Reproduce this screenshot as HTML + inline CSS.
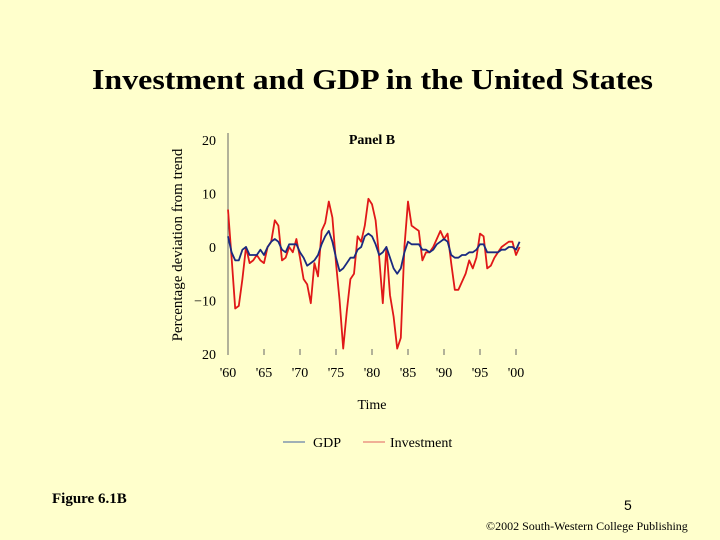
<!DOCTYPE html>
<html><head><meta charset="utf-8"><style>
body{margin:0;width:720px;height:540px;background:#FFFFCC;overflow:hidden;font-family:"Liberation Serif",serif;}
</style></head><body>
<svg width="720" height="540" style="position:absolute;left:0;top:0">
<text x="92" y="89" textLength="561" lengthAdjust="spacingAndGlyphs" font-size="29" font-weight="bold" font-family="Liberation Serif">Investment and GDP in the United States</text>
<text x="372" y="144" text-anchor="middle" font-size="14" font-weight="bold" font-family="Liberation Serif">Panel B</text>
<text transform="translate(182,245) rotate(-90)" text-anchor="middle" font-size="15" font-family="Liberation Serif">Percentage deviation from trend</text>
<text x="372" y="409" text-anchor="middle" font-size="14" font-family="Liberation Serif">Time</text>
<g id="axes"></g>
<g id="series"></g>
<line x1="283" y1="442" x2="305" y2="442" stroke="#4060a0" stroke-width="1"/>
<text x="313" y="447" font-size="14" font-family="Liberation Serif">GDP</text>
<line x1="363" y1="442" x2="385" y2="442" stroke="#e06060" stroke-width="1"/>
<text x="390" y="447" font-size="14" font-family="Liberation Serif">Investment</text>
<text x="52" y="503" font-size="15" font-weight="bold" font-family="Liberation Serif">Figure 6.1B</text>
<text x="624" y="510" font-size="14" font-family="Liberation Sans">5</text>
<text x="486" y="530" font-size="12" font-family="Liberation Serif">©2002 South-Western College Publishing</text>
</svg>
<script>
const years=[];for(let i=0;i<=81;i++)years.push(1960+i*0.5);
const yTicks=[20,10,0,-10,-20];
const yTickLabels=["20","10","0","\u221210","20"];
const xTicks=[1960,1965,1970,1975,1980,1985,1990,1995,2000];
const xTickLabels=["'60","'65","'70","'75","'80","'85","'90","'95","'00"];
const investment=[7,-2,-11.5,-11,-6,0,-3,-2.5,-1.5,-2.5,-3,0,1,5,4,-2.5,-2,0,-1,1.5,-2,-6,-7,-10.5,-3,-5.5,3,4.5,8.5,5.5,-3,-10,-19,-12,-6,-5,2,1,4,9,8,5,-2,-10.5,0,-9,-13,-19,-17,0,8.5,4,3.5,3,-2.5,-1,-1,0,1.5,3,1.5,2.5,-3,-8,-8,-6.5,-5,-2.5,-4,-2,2.5,2,-4,-3.5,-2,-1,0,0.5,1,1,-1.5,0];
const gdp=[2,-1,-2.5,-2.5,-0.5,0,-1.5,-1.5,-1.5,-0.5,-1.5,0,1,1.5,1,-0.5,-1,0.5,0.5,0.5,-1,-2,-3.5,-3,-2.5,-1.5,0.5,2,3,1,-2,-4.5,-4,-3,-2,-2,-0.5,0,2,2.5,2,0.5,-1.5,-1,0,-2,-4,-5,-4,-1,1,0.5,0.5,0.5,-0.5,-0.5,-1,-0.5,0.5,1,1.5,1,-1.5,-2,-2,-1.5,-1.5,-1,-1,-0.5,0.5,0.5,-1,-1,-1,-1,-0.5,-0.5,0,0,-0.5,1];
const NS="http://www.w3.org/2000/svg";
const xS=y=>228+(y-1960)*7.2;
const yS=v=>247-v*5.35;
const ax=document.getElementById('axes');
function mk(t,a,p){const e=document.createElementNS(NS,t);for(const k in a)e.setAttribute(k,a[k]);p.appendChild(e);return e;}
const yl=mk('line',{x1:228,y1:133,x2:228,y2:355,stroke:'#666','stroke-width':1},ax);


yTicks.forEach((t,i)=>{const tx=mk('text',{x:216,y:yS(t)+5,'text-anchor':'end','font-size':14,'font-family':'Liberation Serif'},ax);tx.textContent=yTickLabels[i];

});
xTicks.forEach((t,i)=>{const l=mk('line',{x1:xS(t),y1:349,x2:xS(t),y2:355,stroke:'#666','stroke-width':1},ax);


const tx=mk('text',{x:xS(t),y:377,'text-anchor':'middle','font-size':14,'font-family':'Liberation Serif'},ax);tx.textContent=xTickLabels[i];

});
const sg=document.getElementById('series');
function line(vals,col,w,name){const d=vals.map((v,i)=>(i?'L':'M')+xS(years[i]).toFixed(1)+','+yS(v).toFixed(1)).join('');
const p=mk('path',{d:d,fill:'none',stroke:col,'stroke-width':w,'stroke-linejoin':'round'},sg);

}
line(investment,'#e01818',1.8,'investment-line');
line(gdp,'#1a2a80',1.8,'gdp-line');
</script>
</body></html>
